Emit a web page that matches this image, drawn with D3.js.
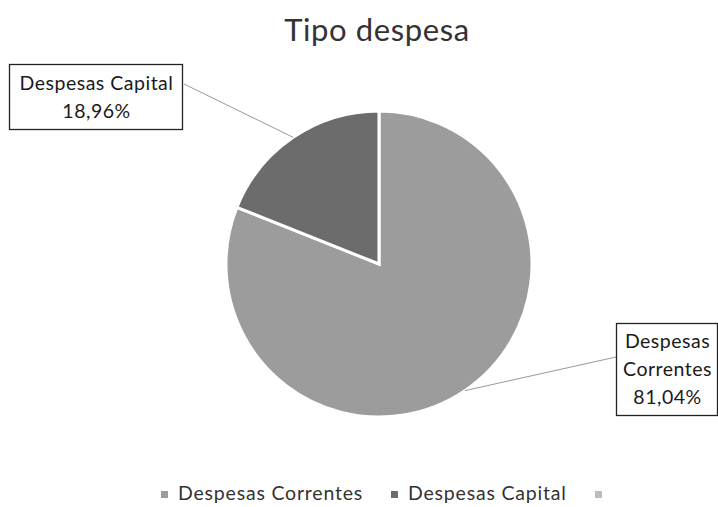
<!DOCTYPE html>
<html>
<head>
<meta charset="utf-8">
<script src="https://cdn.jsdelivr.net/npm/d3@7"></script>
<style>
  body { margin: 0; background: #fff; }
  text { font-family: Lato, 'Open Sans', sans-serif; fill: #1a1a1a; }
</style>
</head>
<body>
<div id="chart"></div>
<script>
// data
const categories = ['Despesas Correntes', 'Despesas Capital', '']
const values = [81.04, 18.96, 0]
const labelLines = [['Despesas', 'Correntes'], ['Despesas Capital'], []]
const colors = ['#9c9c9c', '#6c6c6c', '#bdbdbd']

const w = 718
const h = 507
const cx = 379
const cy = 264
const r = 153

const svg = d3.select('#chart').append('svg')
  .attr('width', w)
  .attr('height', h)

svg.append('text')
  .attr('x', 377)
  .attr('y', 41)
  .attr('text-anchor', 'middle')
  .style('font-size', '31px')
  .style('letter-spacing', '0.6px')
  .style('fill', '#333')
  .text('Tipo despesa')

const data = categories.map((c, i) => ({ name: c, value: values[i], lines: labelLines[i], color: colors[i] }))

const pie = d3.pie().sort(null).value(d => d.value)
const arc = d3.arc().innerRadius(0).outerRadius(r)
const arcs = pie(data).filter(d => d.data.value > 0)

const g = svg.append('g').attr('transform', 'translate(' + cx + ',' + cy + ')')

g.selectAll('path')
  .data(arcs)
  .enter().append('path')
  .attr('d', arc)
  .attr('fill', d => d.data.color)
  .attr('stroke', '#fff')
  .attr('stroke-width', 3)
  .attr('stroke-linejoin', 'miter')

const pct = d3.formatLocale({ decimal: ',', thousands: '.', grouping: [3], currency: ['', ''] }).format('.2%')

// label boxes (layout)
const boxes = [
  { x: 616, y: 323, w: 101, h: 92, ax: 616, ay: 357 },
  { x: 9, y: 64, w: 173, h: 65, ax: 184, ay: 84 }
]

arcs.forEach((d, i) => {
  const b = boxes[i]
  const mid = (d.startAngle + d.endAngle) / 2
  const px = cx + r * Math.sin(mid)
  const py = cy - r * Math.cos(mid)
  svg.append('line')
    .attr('x1', px).attr('y1', py)
    .attr('x2', b.ax).attr('y2', b.ay)
    .attr('stroke', '#999')
    .attr('stroke-width', 1)
  svg.append('rect')
    .attr('x', b.x + 0.5).attr('y', b.y + 0.5)
    .attr('width', b.w).attr('height', b.h)
    .attr('fill', '#fff')
    .attr('stroke', '#222')
    .attr('stroke-width', 1.3)
  const lines = d.data.lines.concat([pct(d.data.value / 100)])
  const lh = 28
  const top = b.y + b.h / 2 - (lines.length * lh) / 2
  lines.forEach((t, j) => {
    svg.append('text')
      .attr('x', b.x + b.w / 2 + 1)
      .attr('y', top + lh * j + 21)
      .attr('text-anchor', 'middle')
      .style('font-size', '19.5px')
      .style('letter-spacing', '0.5px')
      .text(t)
  })
})

// legend
const legendX = [161, 391, 595]
const legend = svg.selectAll('.legend')
  .data(data)
  .enter().append('g')
  .attr('class', 'legend')
  .attr('transform', (d, i) => 'translate(' + legendX[i] + ',491)')

legend.append('rect')
  .attr('width', 7)
  .attr('height', 7)
  .attr('fill', d => d.color)

legend.append('text')
  .attr('x', 17)
  .attr('y', 9)
  .style('font-size', '19.5px')
  .style('letter-spacing', '0.8px')
  .style('fill', '#333')
  .text(d => d.name)
</script>
</body>
</html>
